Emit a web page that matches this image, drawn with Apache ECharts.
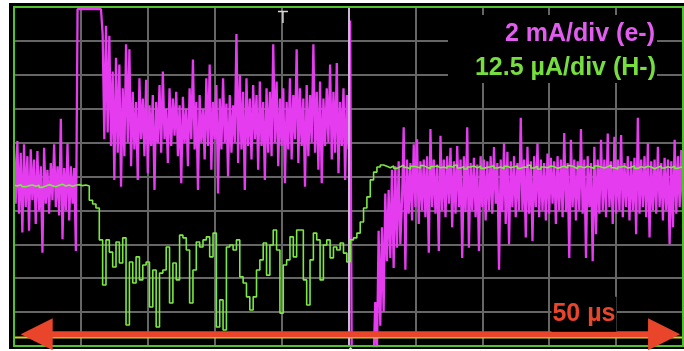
<!DOCTYPE html>
<html>
<head>
<meta charset="utf-8">
<script src="https://cdn.jsdelivr.net/npm/echarts@6/dist/echarts.min.js"></script>
<style>
  html, body { margin: 0; padding: 0; background: #fff; }
  #screen { position: absolute; left: 9px; top: 3px; width: 675px; height: 346px; background: #000; }
  #chart { position: absolute; left: 0; top: 0; width: 684px; height: 351px; }
</style>
</head>
<body>
<div id="screen"></div>
<div id="chart"></div>
<script>
// Scope capture: 10 x 10 divisions, 5 µs per horizontal division.
// Trace values are in screen divisions (0 = bottom graticule line).

const E_STEP_US = 0.125;   // sample spacing of the electron channel
const H_STEP_US = 0.25;    // sample spacing of the H- channel

// Electron current (magenta), one row per microsecond
const eMinus = [
  5.9, 4.2, 6.05, 3.9, 5.7, 3.35, 5.95, 4.1,
  5.6, 3.4, 5.8, 4.3, 5.5, 3.6, 5.75, 4.0,
  5.3, 2.75, 5.85, 4.2, 5.2, 3.9, 5.4, 4.3,
  5.95, 4.1, 5.3, 3.85, 6.7, 3.15, 5.25, 4.0,
  5.98, 3.7, 5.3, 4.2, 5.25, 2.8, 9.94, 9.94,
  9.94, 9.94, 9.94, 9.94, 9.94, 9.94, 9.94, 9.94,
  9.94, 9.94, 9.94, 9.94, 9.94, 9.2, 6.1, 9.45,
  6.3, 9.15, 5.9, 8.1, 4.9, 8.5, 5.7, 8.3,
  4.7, 7.6, 5.6, 8.9, 6.0, 8.75, 5.3, 7.5,
  5.8, 7.2, 4.9, 7.9, 6.1, 7.3, 5.6, 7.85,
  5.1, 7.1, 5.9, 7.4, 4.6, 7.2, 6.0, 7.7,
  5.7, 8.1, 6.1, 7.0, 5.4, 7.6, 5.9, 7.3,
  6.2, 7.5, 5.6, 7.1, 4.8, 7.35, 6.0, 7.0,
  5.3, 7.6, 6.1, 8.45, 5.8, 7.2, 4.6, 7.4,
  6.0, 7.0, 5.5, 7.9, 5.9, 8.3, 5.2, 7.2,
  6.1, 7.7, 4.5, 7.3, 5.8, 7.9, 6.0, 7.15,
  5.0, 7.4, 5.7, 7.1, 6.0, 9.2, 5.4, 8.0,
  5.8, 7.5, 4.6, 7.9, 5.9, 7.3, 5.5, 7.7,
  6.1, 7.4, 5.2, 7.8, 5.9, 7.2, 4.9, 7.6,
  5.7, 7.5, 5.6, 8.9, 6.0, 7.8, 5.3, 7.3,
  5.9, 7.6, 4.8, 7.2, 5.8, 7.9, 5.5, 7.4,
  6.1, 8.75, 5.4, 7.6, 5.9, 7.3, 4.7, 7.7,
  5.6, 7.4, 6.0, 8.9, 5.7, 7.5, 5.2, 7.8,
  4.8, 7.3, 5.9, 7.6, 6.0, 8.3, 5.5, 7.5,
  5.7, 8.35, 5.1, 7.2, 5.9, 7.6, 4.9, 7.4,
  5.8, 9.6, -1, -1, -1, -1, -1, -1,
  -1, -1, -1, -1, -1, -1, -1, -0.5,
  1.3, -0.3, 3.4, 0.6, 3.5, 1.0, 4.5, 2.5,
  4.6, 2.6, 5.2, 2.3, 5.3, 2.9, 5.45, 3.0,
  4.3, 6.45, 2.25, 5.5, 3.9, 5.4, 3.7, 5.95,
  4.1, 6.1, 3.6, 5.45, 4.0, 5.5, 3.8, 5.6,
  2.75, 6.4, 4.1, 5.5, 3.9, 5.35, 2.8, 6.2,
  4.0, 5.5, 3.8, 5.6, 4.2, 5.85, 3.5, 5.45,
  3.9, 5.9, 4.1, 5.5, 2.6, 5.6, 3.95, 6.45,
  2.9, 5.4, 4.0, 5.55, 3.8, 5.35, 2.8, 5.6,
  4.1, 5.5, 3.7, 5.45, 4.0, 5.6, 3.9, 5.87,
  4.2, 5.4, 2.25, 5.5, 3.95, 5.98, 3.6, 5.73,
  3.0, 5.45, 4.1, 5.6, 3.8, 5.4, 4.0, 6.73,
  4.0, 5.5, 3.2, 5.88, 3.9, 5.45, 3.1, 5.6,
  4.1, 5.98, 3.8, 5.5, 4.0, 5.4, 3.7, 5.68,
  3.9, 5.55, 4.2, 5.45, 3.6, 5.6, 4.0, 5.5,
  3.8, 6.28, 3.95, 5.4, 2.6, 6.08, 4.1, 5.5,
  3.7, 5.45, 4.0, 6.4, 3.9, 5.5, 2.6, 5.6,
  4.1, 5.4, 2.5, 5.88, 3.3, 5.5, 3.9, 6.08,
  4.0, 5.5, 3.8, 6.27, 4.1, 5.45, 3.6, 6.17,
  3.9, 5.5, 4.0, 6.22, 3.8, 5.4, 4.1, 5.6,
  3.7, 5.45, 4.0, 5.55, 3.3, 6.73, 3.9, 5.5,
  4.1, 5.6, 3.8, 5.98, 3.2, 5.45, 4.0, 5.5,
  3.9, 5.88, 4.1, 5.4, 3.7, 5.55, 4.0, 5.5,
  3.0, 5.45, 3.5, 6.08, 3.9, 5.6, 4.1, 5.78,
  4.0
];

// H- beam current (green), four samples per microsecond
const hMinus = [
  4.74, 4.72, 4.76, 4.70, 4.73, 4.75, 4.71, 4.74, 4.68, 4.72, 4.76, 4.73,
  4.70, 4.74, 4.77, 4.72, 4.75, 4.71, 4.74, 4.76, 4.73, 4.75, 4.72,
  4.30, 4.19, 4.07, 3.13, 1.80, 3.13, 2.77, 2.33, 3.07, 2.45, 3.19, 0.62,
  2.48, 1.86, 2.63, 1.95, 2.39, 2.48, 1.15, 2.24, 0.56, 2.15, 2.24, 2.92,
  1.27, 2.45, 1.95, 3.27, 3.19, 2.83, 1.27, 2.24, 3.07, 2.92, 3.13, 3.22,
  2.63, 3.33, 0.56, 1.36, 0.47, 2.92, 2.98, 2.83, 3.13, 2.04, 1.86, 1.45,
  1.06, 1.45, 2.24, 2.54, 3.04, 2.09, 2.98, 3.42, 2.83, 0.97, 2.39, 2.54,
  3.22, 2.63, 3.42, 3.42, 1.95, 1.21, 2.54, 3.33, 3.13, 1.95, 2.98, 3.13,
  2.60, 2.92, 2.83, 3.04, 2.74, 2.48, 3.13, 3.19, 3.33, 3.66, 4.07, 4.40,
  4.90, 5.13, 5.28, 5.34,
  5.30, 5.26, 5.31, 5.24, 5.29, 5.33, 5.27, 5.22, 5.30, 5.28,
  5.25, 5.32, 5.27, 5.23, 5.29, 5.31, 5.26, 5.28, 5.24, 5.30,
  5.27, 5.33, 5.25, 5.29, 5.22, 5.28, 5.31, 5.26, 5.30, 5.24,
  5.27, 5.29, 5.32, 5.25, 5.28, 5.23, 5.30, 5.26, 5.29, 5.31,
  5.24, 5.28, 5.27, 5.33, 5.25, 5.30, 5.22, 5.28, 5.26, 5.31,
  5.29, 5.24, 5.27, 5.30, 5.25, 5.32, 5.28, 5.23, 5.29, 5.26,
  5.30, 5.27, 5.24, 5.31, 5.28, 5.25, 5.29, 5.33, 5.26, 5.22,
  5.28, 5.30, 5.25, 5.27, 5.31, 5.24, 5.29, 5.26, 5.30, 5.28,
  5.23, 5.27, 5.31, 5.25, 5.29, 5.26, 5.30, 5.24, 5.28, 5.27
];

const timeRange = { min: 0, max: 50, step: 5 };   // µs
const divRange = { min: 0, max: 10, step: 1 };    // divisions
const groundLevel = 0.25;        // channel ground marker
const centreTime = 25;           // centre graticule line
const triggerTime = 20.1;        // trigger position marker
const spanArrow = { from: 0.5, to: 49.78, level: 0.35 };
const spanLabelAt = [42.6, 0.94];
const labels = {
  e: '2 mA/div (e-)',
  h: '12.5 µA/div (H-)',
  span: '50 µs'
};

const COLORS = {
  e: '#e53cf0',
  h: '#7ce844',
  eText: '#e25cf0',
  hText: '#76de3e',
  grid: '#666666',
  frame: '#4fc22c',
  ground: '#d6cc2a',
  arrow: '#e8452b'
};
const FONT = '"Liberation Sans", Arial, sans-serif';

const toPairs = (values, step) => values.map((v, i) => [i * step, v]);

const chart = echarts.init(document.getElementById('chart'), null, { renderer: 'canvas' });

const axisCommon = {
  type: 'value',
  axisLine: { show: false },
  axisTick: { show: false },
  axisLabel: { show: false },
  splitLine: { show: true, lineStyle: { color: COLORS.grid, width: 2 } }
};

chart.setOption({
  animation: false,
  backgroundColor: 'transparent',
  grid: { left: 14, right: 1, top: 7, bottom: 5, show: false },
  xAxis: Object.assign({}, axisCommon, { min: timeRange.min, max: timeRange.max, interval: timeRange.step }),
  yAxis: Object.assign({}, axisCommon, { min: divRange.min, max: divRange.max, interval: divRange.step }),
  series: [
    {
      // brighter centre line of the graticule
      type: 'line', data: [], z: 1,
      markLine: {
        silent: true, symbol: 'none', label: { show: false },
        lineStyle: { color: '#cdb6d6', width: 2, type: 'solid' },
        data: [{ xAxis: centreTime }]
      }
    },
    {
      name: 'e-', type: 'line', z: 2,
      data: toPairs(eMinus, E_STEP_US),
      symbol: 'none', sampling: false, clip: true,
      lineStyle: { color: COLORS.e, width: 2.3, join: 'bevel' }
    },
    {
      name: 'H-', type: 'line', z: 3,
      data: toPairs(hMinus, H_STEP_US),
      symbol: 'none', clip: true, step: 'middle',
      lineStyle: { color: COLORS.h, width: 1.6 }
    },
    {
      name: 'ground', type: 'line', z: 4,
      data: [[timeRange.min, groundLevel], [timeRange.max, groundLevel]],
      symbol: 'none',
      lineStyle: { color: COLORS.ground, width: 2 }
    }
  ]
});

// Frame, annotations and the time-span arrow, placed through the axes
const px = (t, v) => chart.convertToPixel({ gridIndex: 0 }, [t, v]);
const [gx0, gy0] = px(timeRange.min, divRange.min);
const [gx1, gy1] = px(timeRange.max, divRange.max);

const [ax0, ay] = px(spanArrow.from, spanArrow.level);
const [ax1] = px(spanArrow.to, spanArrow.level);
const headLen = 32, headHalf = 16, shaftHalf = 3;
const arrowPoints = [
  [ax0, ay],
  [ax0 + headLen, ay - headHalf],
  [ax0 + headLen, ay - shaftHalf],
  [ax1 - headLen, ay - shaftHalf],
  [ax1 - headLen, ay - headHalf],
  [ax1, ay],
  [ax1 - headLen, ay + headHalf],
  [ax1 - headLen, ay + shaftHalf],
  [ax0 + headLen, ay + shaftHalf],
  [ax0 + headLen, ay + headHalf]
];

const [tx] = px(triggerTime, divRange.max);
const [cx] = px(centreTime, divRange.min);
const [lx, ly] = px(spanLabelAt[0], spanLabelAt[1]);

chart.setOption({
  graphic: [
    {
      type: 'rect', z: 50,
      shape: { x: gx0, y: gy1, width: gx1 - gx0, height: gy0 - gy1 },
      style: { fill: 'none', stroke: COLORS.frame, lineWidth: 2 }
    },
    {
      type: 'rect', z: 60,
      shape: { x: 448, y: 15, width: 209, height: 68 },
      style: { fill: '#000' }
    },
    {
      type: 'text', z: 61, x: 655, y: 34,
      style: { text: labels.e, fill: COLORS.eText, font: 'bold 25px ' + FONT, align: 'right', verticalAlign: 'middle' }
    },
    {
      type: 'text', z: 61, x: 656, y: 68,
      style: { text: labels.h, fill: COLORS.hText, font: 'bold 25px ' + FONT, align: 'right', verticalAlign: 'middle' }
    },
    {
      type: 'polyline', z: 62,
      shape: { points: [[tx - 5, gy1 + 4.5], [tx + 5, gy1 + 4.5]] },
      style: { stroke: '#d8d8d8', lineWidth: 1.5, fill: 'none' }
    },
    {
      type: 'polyline', z: 62,
      shape: { points: [[tx, gy1 + 4.5], [tx, gy1 + 16]] },
      style: { stroke: '#d8d8d8', lineWidth: 1.5, fill: 'none' }
    },
    {
      type: 'polygon', z: 62,
      shape: { points: [[cx + 2, gy0 + 1], [cx - 1, gy0 + 4], [cx + 5, gy0 + 4]] },
      style: { fill: '#e8e8e8' }
    },
    {
      type: 'polygon', z: 70,
      shape: { points: arrowPoints },
      style: { fill: COLORS.arrow }
    },
    {
      type: 'text', z: 71, x: lx, y: ly,
      style: {
        text: labels.span, fill: COLORS.arrow, font: 'bold 25px ' + FONT,
        align: 'center', verticalAlign: 'middle',
        backgroundColor: '#000', padding: [6, 1, 4, 1]
      }
    }
  ]
});
</script>
</body>
</html>
